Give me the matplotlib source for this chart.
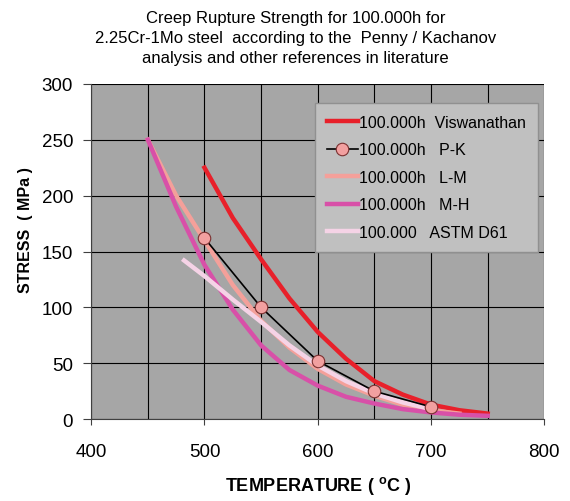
import numpy as np
import matplotlib
matplotlib.use('Agg')
import matplotlib.pyplot as plt

plt.rcParams['font.family'] = ['Liberation Sans', 'DejaVu Sans']

# values (temperature in C, stress in MPa)
visw_t = [500, 525, 550, 575, 600, 625, 650, 675, 700, 725, 750]
visw_s = [225, 180, 143, 108, 78, 54, 34, 22, 13, 8, 5]

pk_t = [500, 550, 600, 650, 700]
pk_s = [162, 100, 52, 25, 11]

lm_t = [450, 475, 500, 525, 550, 575, 600, 625, 650, 675, 700, 725]
lm_s = [250, 200, 160, 120, 88, 64, 45, 31, 21, 13, 8, 5]

mh_t = [450, 475, 500, 525, 550, 575, 600, 625, 650, 675, 700, 725, 750]
mh_s = [250, 190, 138, 98, 66, 44, 30, 20, 14, 9, 6, 4, 3]

astm_t = [482, 500, 525, 550, 575, 600, 625, 650, 675, 700]
astm_s = [142, 128, 107, 87, 66, 48, 34, 23, 15, 9]

labels = ['100.000h  Viswanathan', '100.000h   P-K', '100.000h   L-M',
          '100.000h   M-H', '100.000   ASTM D61']

fig = plt.figure(figsize=(5.7, 5.02), dpi=100)
ax = fig.add_axes([0.160, 0.163, 0.795, 0.668])
ax.set_facecolor('#a6a6a6')

ax.plot(visw_t, visw_s, color='#e8202a', lw=3.2, label=labels[0], zorder=3)
ax.plot(pk_t, pk_s, color='black', lw=1.2, marker='o', ms=9,
        mfc='#f2a0a0', mec='#7a3030', mew=0.8, label=labels[1], zorder=6)
ax.plot(lm_t, lm_s, color='#f4a09a', lw=3.2, label=labels[2], zorder=4)
ax.plot(mh_t, mh_s, color='#d850a8', lw=3.2, label=labels[3], zorder=4)
ax.plot(astm_t, astm_s, color='#f5d3e6', lw=3.2, label=labels[4], zorder=5)

ax.set_xlim(400, 800)
ax.set_ylim(0, 300)
ax.set_xticks([400, 500, 600, 700, 800])
ax.set_yticks(np.arange(0, 301, 50))
ax.set_xticks(np.arange(450, 800, 100), minor=True)
ax.grid(True, which='both', color='black', lw=0.8)
ax.set_axisbelow(True)
ax.tick_params(axis='x', which='minor', length=0)
ax.tick_params(axis='both', which='major', labelsize=13.5,
               direction='out', color='#404040')
ax.tick_params(axis='x', which='major', length=4, pad=13)
ax.tick_params(axis='y', which='major', length=6, pad=7)
for s in ['top', 'right']:
    ax.spines[s].set_visible(False)
for s in ['left', 'bottom']:
    ax.spines[s].set_color('#404040')

ax.set_ylabel('STRESS  ( MPa )', fontsize=11.5, fontweight='bold')
ax.yaxis.set_label_coords(-0.128, 0.567)
ax.set_xlabel('TEMPERATURE ( $^\\mathregular{o}$C )', fontsize=13,
              fontweight='bold', labelpad=10)

leg = ax.legend(loc='upper left', bbox_to_anchor=(0.477, 0.967), fontsize=11.5,
                frameon=True, fancybox=False, handlelength=1.9,
                handletextpad=0.1, labelspacing=0.78, borderpad=0.75)
leg.get_frame().set_facecolor('#c0c0c0')
leg.get_frame().set_edgecolor('#909090')
leg.get_frame().set_alpha(1)

fig.text(0.518, 0.978,
         'Creep Rupture Strength for 100.000h for\n'
         '2.25Cr-1Mo steel  according to the  Penny / Kachanov\n'
         'analysis and other references in literature',
         ha='center', va='top', fontsize=12, linespacing=1.4)

fig.savefig('out.png', dpi=100, facecolor='white')
